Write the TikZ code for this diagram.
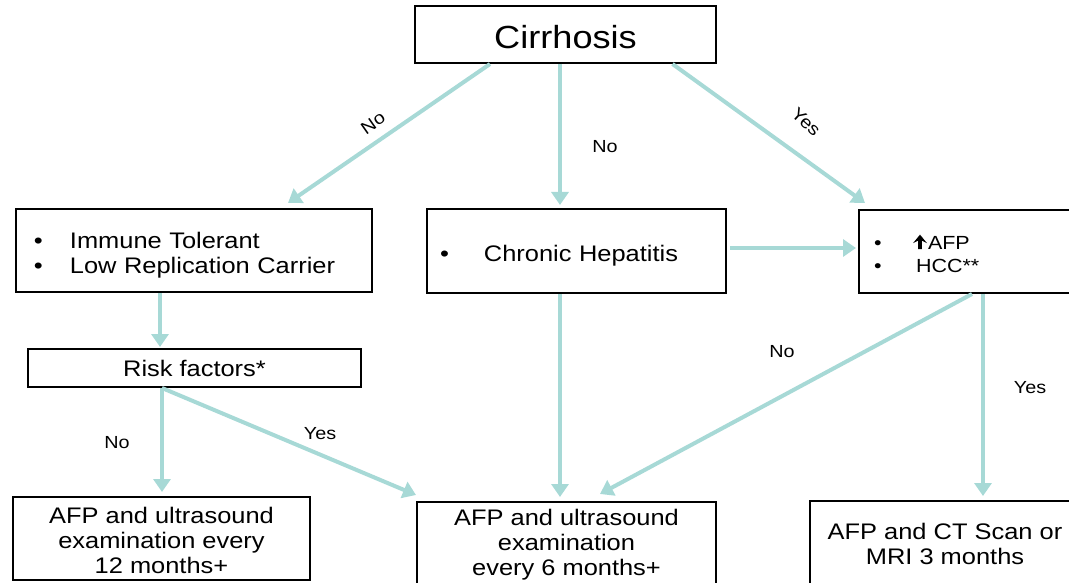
\documentclass[tikz,border=0pt]{standalone}
\usepackage{fontspec}
\setmainfont{Liberation Sans}[FakeStretch=1.13]
\usetikzlibrary{arrows.meta,calc}
\definecolor{conncol}{RGB}{167,217,214}
\newcommand\mystrut[1]{\rule{0pt}{#1}}
\newcommand\bolduparrow{\tikz[baseline=0pt,x=1pt,y=1pt]{\fill[black] (-1.9,0)--(1.9,0)--(1.9,8.5)--(7,6)--(0,14.5)--(-7,6)--(-1.9,8.5)--cycle;}}
\begin{document}
\begin{tikzpicture}[x=1pt,y=-1pt,
  box/.style={draw=black, line width=2pt, rectangle, inner sep=0pt, align=center},
  conn/.style={draw=conncol, line width=4pt, -{Triangle[width=17pt,length=13pt]}},
  lbl/.style={font=\fontsize{17.5}{20}\selectfont, inner sep=0pt},
  boxtxt/.style={font=\fontsize{22.5}{25}\selectfont}]
\useasboundingbox (0,0) rectangle (1069,583);
\clip (0,0) rectangle (1069,583);

\node[box, minimum width=301pt, minimum height=57pt, font=\fontsize{32}{36}\selectfont] (cir) at (565.5,34.5) {\mystrut{27.5pt}Cirrhosis};

\node[box, boxtxt, minimum height=83pt, text width=320pt, inner xsep=18pt, align=left] (itol) at (194,250.5)
  {\mystrut{25pt}\makebox[36pt][l]{•}Immune Tolerant\\\makebox[36pt][l]{•}Low Replication Carrier};

\node[box, boxtxt, minimum height=84pt, text width=273pt, inner xsep=13pt, align=left] (chr) at (576.5,251)
  {\mystrut{26.5pt}\makebox[44pt][l]{•}Chronic Hepatitis};

\node[box, font=\fontsize{19}{23}\selectfont, minimum height=83pt, text width=196pt, inner xsep=15pt, align=left] (afp) at (972,251.5)
  {\mystrut{18.5pt}\makebox[38pt][l]{•}\makebox[16pt][c]{\bolduparrow}AFP\\\makebox[42pt][l]{•}HCC**};

\node[box, boxtxt, minimum width=333pt, minimum height=38pt] (risk) at (194.5,368) {\mystrut{18pt}Risk factors*};

\node[box, boxtxt, minimum width=297pt, minimum height=83pt] (b12) at (161.5,538.5)
  {\mystrut{21pt}AFP and ultrasound\\examination every\\12 months+};
\node[box, boxtxt, minimum width=299pt, minimum height=82pt] (b6) at (566.5,543)
  {\mystrut{19pt}AFP and ultrasound\\examination\\every 6 months+};
\node[box, boxtxt, minimum width=270pt, minimum height=86pt] (b3) at (945,544)
  {AFP and CT Scan or\\MRI 3 months};

% connectors
\draw[conn] ($(cir.south)+(-75.5,0)$) -- ($(itol.north)+(94,-5)$);
\draw[conn] ($(cir.south)+(-5.5,0)$) -- ($(chr.north)+(-16.5,-3)$);
\draw[conn] ($(cir.south)+(107,0)$) -- ($(afp.north west)+(7,-6)$);
\draw[conn] ($(chr.east)+(3,-3)$) -- ($(afp.west)+(-2,-3.5)$);
\draw[conn] ($(itol.south)+(-34,0)$) -- ($(risk.north)+(-34.5,-1)$);
\draw[conn] ($(risk.south)+(-32.5,0)$) -- ($(b12.north)+(0.5,-4)$);
\draw[conn] ($(risk.south)+(-32.5,0)$) -- ($(b6.north west)+(0,-6)$);
\draw[conn] ($(chr.south)+(-16.5,0)$) -- ($(b6.north)+(-6.5,-4)$);
\draw[conn] ($(afp.south)+(0,0)$) -- ($(b6.north)+(33.5,-7)$);
\draw[conn] ($(afp.south)+(11,0)$) -- ($(b3.north)+(38,-4)$);

% labels
\node[lbl, rotate=35] (l1) at (373,123) {No};
\node[lbl] (l2) at (605,147) {No};
\node[lbl, rotate=-42] (l3) at (806,122) {Yes};
\node[lbl] (l4) at (117,443) {No};
\node[lbl] (l5) at (320,434) {Yes};
\node[lbl] (l6) at (782,352) {No};
\node[lbl] (l7) at (1030,388) {Yes};
\end{tikzpicture}
\end{document}
